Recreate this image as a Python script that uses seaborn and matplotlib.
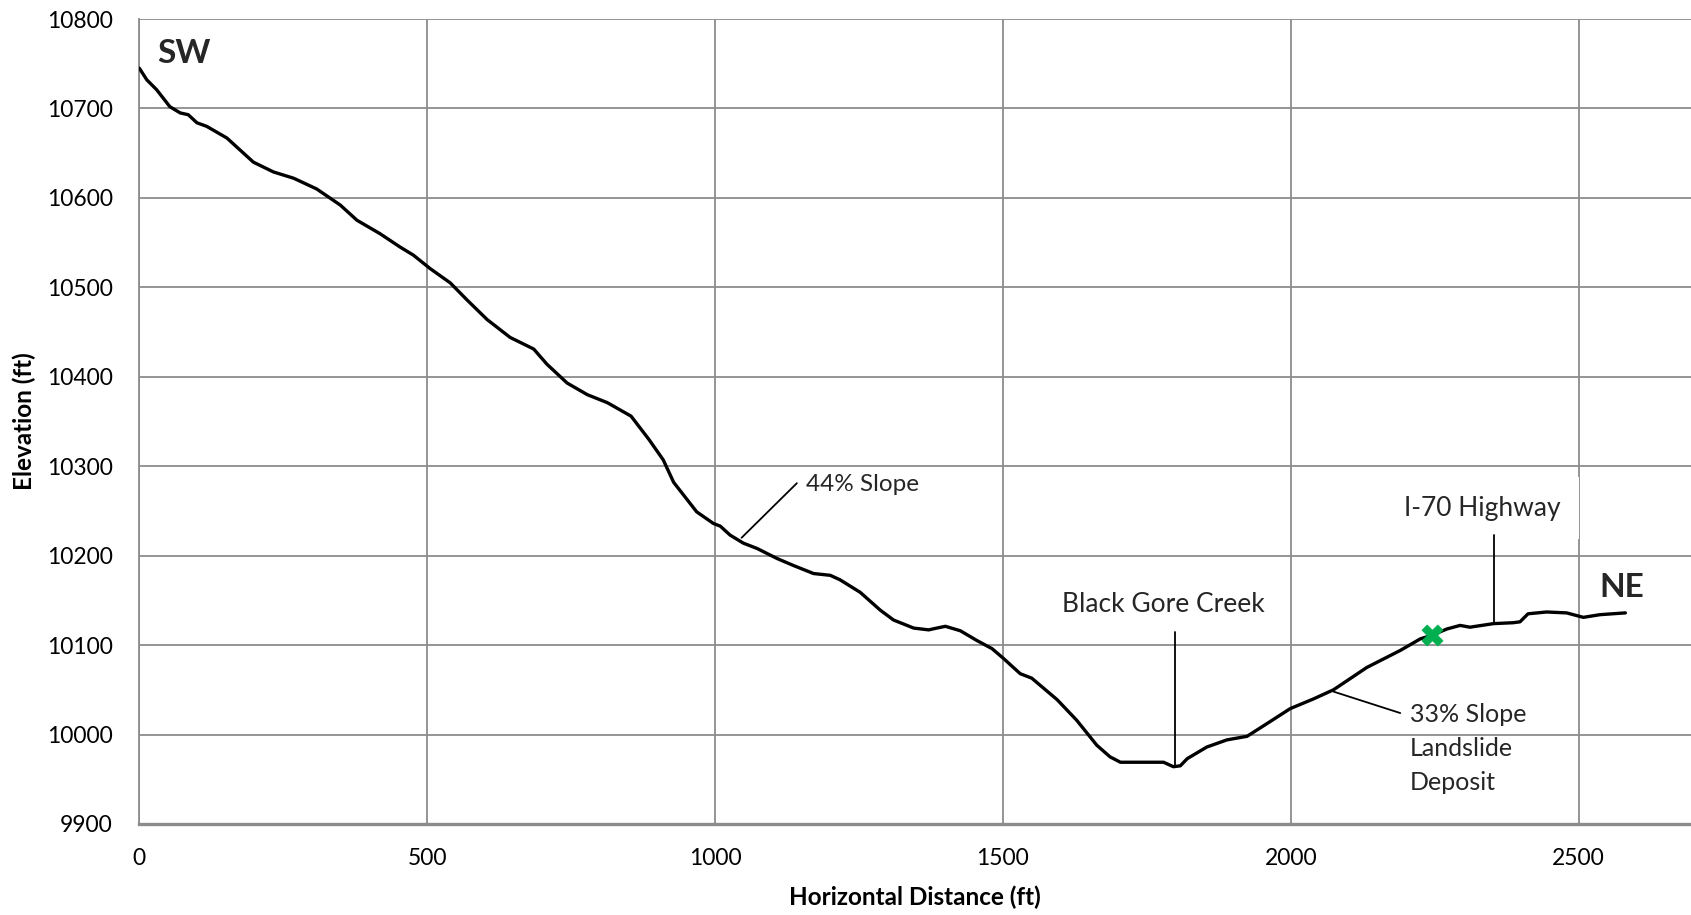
import matplotlib
matplotlib.use("Agg")
import matplotlib.pyplot as plt
import seaborn as sns
import pandas as pd

# ---- data ----
distance_ft = [0, 13, 30, 53, 71, 85, 100, 117, 152, 198, 233, 268, 308, 349, 378,
               418, 453, 476, 505, 540, 569, 604, 644, 685, 708, 743, 778, 813, 854,
               885, 910, 928, 968, 997, 1009, 1026, 1049, 1073, 1107, 1136, 1171,
               1200, 1217, 1252, 1287, 1310, 1345, 1371, 1385, 1400, 1426, 1455, 1481,
               1501, 1530, 1550, 1594, 1628, 1663, 1686, 1704, 1739, 1779, 1796,
               1808, 1820, 1854, 1889, 1924, 1958, 1999, 2040, 2074, 2132, 2190,
               2225, 2245, 2271, 2294, 2311, 2352, 2386, 2398, 2412, 2444, 2479,
               2508, 2537, 2581]
elevation_ft = [10745, 10732, 10721, 10702, 10695, 10693, 10684, 10680, 10667, 10640,
                10629, 10622, 10610, 10592, 10575, 10560, 10545, 10536, 10521, 10505,
                10486, 10464, 10444, 10431, 10414, 10393, 10380, 10371, 10356, 10330,
                10307, 10282, 10249, 10236, 10233, 10223, 10214, 10208, 10197, 10189,
                10180, 10178, 10173, 10159, 10139, 10128, 10119, 10117, 10119, 10121,
                10116, 10105, 10096, 10085, 10068, 10063, 10039, 10016, 9988, 9975,
                9969, 9969, 9969, 9964, 9965, 9973, 9986, 9994, 9998, 10012, 10029,
                10040, 10050, 10075, 10094, 10107, 10111, 10118, 10122, 10120, 10124,
                10125, 10126, 10135, 10137, 10136, 10131, 10134, 10136]

marker_x = [2245]
marker_y = [10111]

x_ticks = [0, 500, 1000, 1500, 2000, 2500]
y_ticks = [9900, 10000, 10100, 10200, 10300, 10400, 10500, 10600, 10700, 10800]

profile = pd.DataFrame({"Horizontal Distance (ft)": distance_ft,
                        "Elevation (ft)": elevation_ft})
marker = pd.DataFrame({"x": marker_x, "y": marker_y})

# ---- style ----
sns.set_theme(style="white")
plt.rcParams["font.family"] = ["Lato", "DejaVu Sans"]
grid_c = "#8c8c8c"

fig = plt.figure(figsize=(16.91, 9.15), dpi=100)
ax = fig.add_axes([0.0824, 0.0995, 0.9176, 0.8797])

sns.lineplot(data=profile, x="Horizontal Distance (ft)", y="Elevation (ft)",
             ax=ax, color="black", linewidth=2.4, sort=False, zorder=5)
sns.scatterplot(data=marker, x="x", y="y", ax=ax, marker="X", s=230,
                color="#00b050", edgecolor="#00b050", linewidth=0.5, zorder=6)

ax.set_xlim(0, 2695)
ax.set_ylim(9900, 10800)
ax.set_xticks(x_ticks)
ax.set_yticks(y_ticks)
ax.grid(True, color=grid_c, linewidth=1.3)
ax.set_axisbelow(True)
for s in ["top", "right"]:
    ax.spines[s].set_visible(False)
ax.spines["left"].set_color(grid_c)
ax.spines["left"].set_linewidth(1.3)
ax.spines["bottom"].set_color(grid_c)
ax.spines["bottom"].set_linewidth(2.4)
ax.tick_params(axis="x", length=0, pad=17, labelsize=16.5, labelcolor="black")
ax.tick_params(axis="y", length=0, pad=19, labelsize=16.5, labelcolor="black")
ax.set_xlabel("Horizontal Distance (ft)", fontsize=17.5, fontweight="bold",
              labelpad=12, color="black")
ax.set_ylabel("Elevation (ft)", fontsize=17.5, fontweight="bold",
              labelpad=8, color="black")

# ---- annotations ----
ax.text(31, 10762, "SW", fontsize=24, fontweight="bold", va="center", ha="left")
ax.text(2575, 10164, "NE", fontsize=24, fontweight="bold", va="center", ha="center")

ax.plot([1046, 1142], [10220, 10281], color="black", linewidth=1.3, zorder=4)
ax.text(1158, 10280, "44% Slope", fontsize=17.5, va="center", ha="left")

ax.plot([1798, 1798], [9964, 10115], color="black", linewidth=1.3, zorder=4)
ax.text(1779, 10145, "Black Gore Creek", fontsize=19, va="center", ha="center")

ax.plot([2352, 2352], [10124, 10223], color="black", linewidth=1.3, zorder=4)
ax.text(2332, 10253, "I-70 Highway", fontsize=19, va="center", ha="center",
        bbox=dict(facecolor="white", edgecolor="none", boxstyle="square,pad=0.7"),
        zorder=3)

ax.plot([2074, 2190], [10048, 10024], color="black", linewidth=1.3, zorder=4)
ax.text(2207, 10035, "33% Slope\nLandslide\nDeposit", fontsize=18, va="top",
        ha="left", linespacing=1.58)

fig.savefig("out.png", dpi=100)
